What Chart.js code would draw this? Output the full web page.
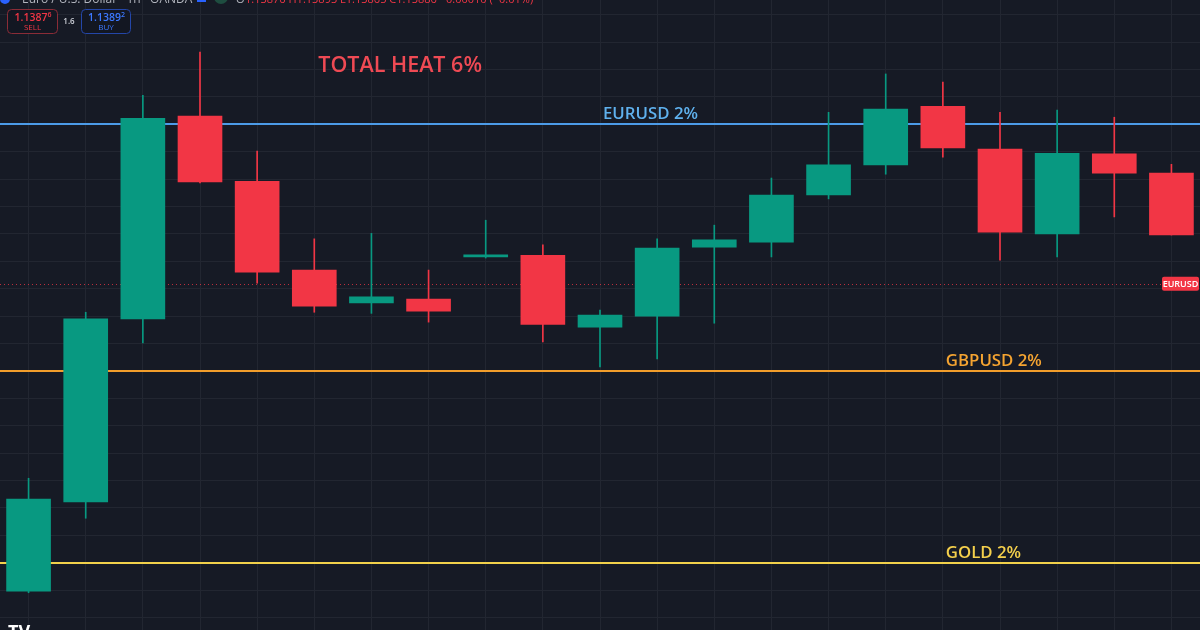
<!DOCTYPE html>
<html>
<head>
<meta charset="utf-8">
<script src="https://cdn.jsdelivr.net/npm/chart.js@4.4.1/dist/chart.umd.min.js"></script>
<style>
  html, body { margin: 0; padding: 0; background: #161a25; overflow: hidden; }
</style>
</head>
<body>
<canvas id="chart" width="1200" height="630"></canvas>
<script>
// EURUSD 1h candles (price)
const hours = ["02:00", "03:00", "04:00", "05:00", "06:00", "07:00", "08:00", "09:00", "10:00", "11:00", "12:00",
  "13:00", "14:00", "15:00", "16:00", "17:00", "18:00", "19:00", "20:00", "21:00", "22:00"];
const opens = [1.13298, 1.13461, 1.13795, 1.14165, 1.14046, 1.13884, 1.13824, 1.13831, 1.13908, 1.13911, 1.13780,
  1.13800, 1.13926, 1.13935, 1.14021, 1.14076, 1.14183, 1.14105, 1.13950, 1.14096, 1.14061];
const highs = [1.13504, 1.13807, 1.14203, 1.14282, 1.14101, 1.13941, 1.13951, 1.13884, 1.13975, 1.13930, 1.13811,
  1.13941, 1.13966, 1.14052, 1.14172, 1.14242, 1.14227, 1.14172, 1.14176, 1.14163, 1.14077];
const lows = [1.13295, 1.13431, 1.13751, 1.14043, 1.13860, 1.13807, 1.13805, 1.13789, 1.13906, 1.13753, 1.13707,
  1.13722, 1.13787, 1.13908, 1.14014, 1.14059, 1.14090, 1.13902, 1.13908, 1.13981, 1.13948];
const closes = [1.13466, 1.13795, 1.14161, 1.14045, 1.13880, 1.13818, 1.13835, 1.13809, 1.13911, 1.13785, 1.13802,
  1.13924, 1.13939, 1.14021, 1.14076, 1.14178, 1.14107, 1.13953, 1.14097, 1.14061, 1.13948];

// risk levels drawn as horizontal lines
const levelNames = ["EURUSD 2%", "GBPUSD 2%", "GOLD 2%"];
const levelPrices = [1.1415, 1.1370, 1.1335];
const levelColors = ["#4c9be8", "#f29d2b", "#f2d14b"];
const levelTextColors = ["#5fb1ee", "#f5a431", "#f5d04c"];

const headline = "TOTAL HEAT 6%";
const headlinePrice = 1.14245;
const lastPrice = 1.13859;
const sellPrice = "1.13876";
const buyPrice = "1.13892";
const spread = "1.6";

const gridStep = 0.0005;
const yMin = 1.13227;
const yMax = 1.14377;

const UP = "#089981";
const DOWN = "#f23645";
const candleColors = closes.map((c, i) => (c >= opens[i] ? UP : DOWN));

const labelFont = '"Open Sans", "DejaVu Sans", sans-serif';

const overlay = {
  id: "overlay",
  beforeDraw(chart) {
    const ctx = chart.ctx;
    ctx.save();
    ctx.fillStyle = "#161a25";
    ctx.fillRect(0, 0, chart.width, chart.height);
    ctx.restore();
  },
  beforeDatasetsDraw(chart) {
    const ctx = chart.ctx;
    const y = chart.scales.y;
    const area = chart.chartArea;
    ctx.save();
    // dotted last price line
    const py = Math.round(y.getPixelForValue(lastPrice)) + 0.5;
    ctx.strokeStyle = "rgba(242,54,69,0.75)";
    ctx.lineWidth = 1;
    ctx.setLineDash([1, 3]);
    ctx.beginPath();
    ctx.moveTo(area.left, py);
    ctx.lineTo(area.right, py);
    ctx.stroke();
    ctx.setLineDash([]);
    // level lines
    levelPrices.forEach((p, i) => {
      const ly = Math.round(y.getPixelForValue(p));
      ctx.strokeStyle = levelColors[i];
      ctx.lineWidth = 2;
      ctx.beginPath();
      ctx.moveTo(area.left, ly);
      ctx.lineTo(area.right, ly);
      ctx.stroke();
    });
    ctx.restore();
  },
  afterDatasetsDraw(chart) {
    const ctx = chart.ctx;
    const x = chart.scales.x;
    const y = chart.scales.y;
    ctx.save();

    // line labels
    ctx.textBaseline = "alphabetic";
    ctx.textAlign = "left";
    ctx.font = "600 21.5px " + labelFont;
    ctx.fillStyle = "#ef4a54";
    ctx.fillText(headline, x.getPixelForValue(5) + 4, y.getPixelForValue(headlinePrice));

    const labelAt = [10, 16, 16];
    ctx.font = "600 16.8px " + labelFont;
    levelNames.forEach((name, i) => {
      ctx.fillStyle = levelTextColors[i];
      ctx.fillText(name, x.getPixelForValue(labelAt[i]) + 3, y.getPixelForValue(levelPrices[i]) - 5);
    });

    // last price tag
    const py = y.getPixelForValue(lastPrice);
    ctx.fillStyle = DOWN;
    ctx.beginPath();
    ctx.roundRect(1162, py - 7, 37, 14, 2);
    ctx.fill();
    ctx.fillStyle = "#ffffff";
    ctx.font = "600 9px " + labelFont;
    ctx.textAlign = "center";
    ctx.textBaseline = "middle";
    ctx.fillText("EURUSD", 1180.5, py + 0.5);

    // header (cut off at top)
    ctx.textAlign = "left";
    ctx.textBaseline = "alphabetic";
    ctx.fillStyle = "#2962ff";
    ctx.beginPath();
    ctx.arc(5, -1, 5, 0, Math.PI * 2);
    ctx.fill();
    ctx.font = "12px " + labelFont;
    ctx.fillStyle = "#b2b5be";
    ctx.fillText("Euro / U.S. Dollar \u00b7 1h \u00b7 OANDA", 22, 3);
    ctx.fillStyle = "#2962ff";
    ctx.fillRect(197, -6, 9, 8);
    ctx.fillStyle = "#1e4d40";
    ctx.beginPath();
    ctx.arc(221, -3, 7, 0, Math.PI * 2);
    ctx.fill();
    ctx.font = "11px " + labelFont;
    ctx.fillStyle = "#b2b5be";
    ctx.fillText("O", 236, 3);
    ctx.fillStyle = "#f23645";
    ctx.fillText("1.13876 H1.13893 L1.13865 C1.13886 \u22120.00010 (\u22120.01%)", 245, 3);

    // sell / buy buttons
    const button = (bx, w, stroke, color, price, word) => {
      ctx.fillStyle = "#131722";
      ctx.strokeStyle = stroke;
      ctx.lineWidth = 1;
      ctx.beginPath();
      ctx.roundRect(bx + 0.5, 9.5, w, 24, 4);
      ctx.fill();
      ctx.stroke();
      ctx.fillStyle = color;
      ctx.textAlign = "left";
      ctx.font = "600 10.5px " + labelFont;
      const main = price.slice(0, -1);
      const mw = ctx.measureText(main).width;
      ctx.font = "600 7px " + labelFont;
      const sw = ctx.measureText(price.slice(-1)).width;
      const sx = bx + (w - mw - sw) / 2 + 1;
      ctx.font = "600 10.5px " + labelFont;
      ctx.fillText(main, sx, 21);
      ctx.font = "600 7px " + labelFont;
      ctx.fillText(price.slice(-1), sx + mw, 17);
      ctx.font = "8px " + labelFont;
      ctx.textAlign = "center";
      ctx.fillText(word, bx + w / 2 + 0.5, 30);
    };
    button(7, 50, "#8a2c37", "#f23645", sellPrice, "SELL");
    button(81, 49, "#2446a8", "#3c78ff", buyPrice, "BUY");
    ctx.fillStyle = "#d1d4dc";
    ctx.font = "600 8px " + labelFont;
    ctx.textAlign = "center";
    ctx.fillText(spread, 69, 24);

    // logo, cut at bottom
    ctx.fillStyle = "#ffffff";
    ctx.font = "bold 18px " + labelFont;
    ctx.textAlign = "left";
    ctx.fillText("TV", 8, 638);

    ctx.restore();
  }
};

new Chart(document.getElementById("chart"), {
  type: "bar",
  data: {
    labels: hours,
    datasets: [
      {
        label: "body",
        data: opens.map((o, i) => [o, closes[i]]),
        backgroundColor: candleColors,
        borderWidth: 0,
        barThickness: 44,
        minBarLength: 2,
        grouped: false,
        order: 1
      },
      {
        label: "wick",
        data: lows.map((l, i) => [l, highs[i]]),
        backgroundColor: candleColors,
        borderWidth: 0,
        barThickness: 1,
        grouped: false,
        order: 2
      }
    ]
  },
  options: {
    responsive: false,
    animation: false,
    devicePixelRatio: 1,
    layout: { padding: 0 },
    plugins: { legend: { display: false }, tooltip: { enabled: false } },
    scales: {
      x: {
        offset: true,
        grid: { offset: false, color: "#222631", drawTicks: false },
        border: { display: false },
        ticks: { display: false }
      },
      y: {
        min: yMin,
        max: yMax,
        grid: { color: "#222631", drawTicks: false },
        border: { display: false },
        ticks: { display: false },
        afterBuildTicks(scale) {
          const ticks = [];
          for (let k = Math.ceil(yMin / gridStep); k * gridStep <= yMax; k++) {
            ticks.push({ value: k * gridStep });
          }
          scale.ticks = ticks;
        }
      }
    }
  },
  plugins: [overlay]
});
</script>
</body>
</html>
